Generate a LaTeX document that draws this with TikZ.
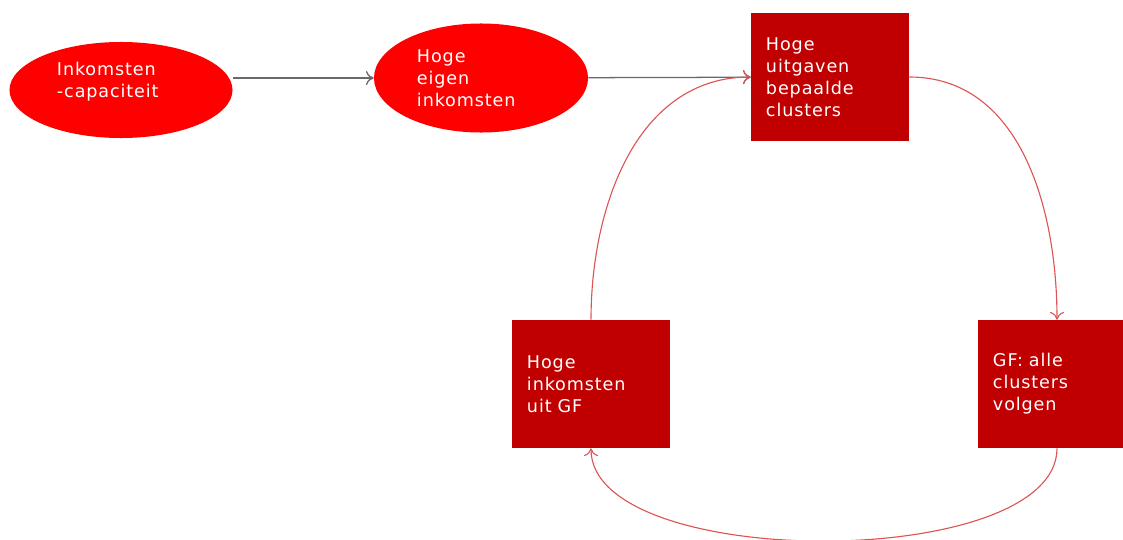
\documentclass[tikz,border=0pt]{standalone}
\usepackage{fontspec}
\setmainfont[LetterSpace=5]{DejaVu Sans}
\usetikzlibrary{shapes.geometric,arrows.meta}

\definecolor{bubblered}{RGB}{255,0,0}
\definecolor{boxred}{RGB}{192,0,0}
\definecolor{cyclered}{RGB}{222,84,84}
\definecolor{flowgray}{RGB}{105,105,105}

\tikzset{
    bubble/.style={ellipse, fill=bubblered, text=white, inner sep=0pt,
        text width=3.2cm, align=left, font=\fontsize{12.5}{15.6}\selectfont},
    block/.style={rectangle, fill=boxred, text=white, inner sep=0pt,
        minimum width=3.95cm, minimum height=3.2cm,
        text width=3.2cm, align=left, font=\fontsize{12.5}{15.6}\selectfont},
    flow/.style={draw=flowgray, line width=0.9pt, -{To[length=5.5pt,width=10pt]}},
    cycleedge/.style={draw=cyclered, line width=0.8pt, -{To[length=5.5pt,width=10pt]}}
}

\begin{document}
\begin{tikzpicture}[x=0.025cm,y=-0.025cm]
\clip (0,0) rectangle (1123,539);

% the income side
\node [bubble, minimum width=5.575cm, minimum height=2.4cm] (capacity) at (121,90) {Inkomsten\\-capaciteit\par\vspace{0.4cm}};
\node [bubble, minimum width=5.35cm, minimum height=2.725cm] (ownincome) at (481,78) {Hoge\\eigen\\inkomsten};

% the cycle
\node [block] (spending) at (830,77) {Hoge\\uitgaven\\bepaalde\\clusters};
\node [block] (gfincome) at (591,384) {Hoge\\inkomsten\\uit GF};
\node [block] (gffollow) at (1057,384) {GF: alle\\clusters\\volgen};

\draw [flow] (capacity.east |- ownincome.west) -- (ownincome.west);
\draw [flow] (ownincome) -- (spending);

\draw [cycleedge] (spending.east) to[out=0,in=90] (gffollow.north);
\draw [cycleedge] (gffollow.south) to[out=-90,in=-90,looseness=0.68] (gfincome.south);
\draw [cycleedge] (gfincome.north) to[out=90,in=180] (spending.west);
\end{tikzpicture}
\end{document}
